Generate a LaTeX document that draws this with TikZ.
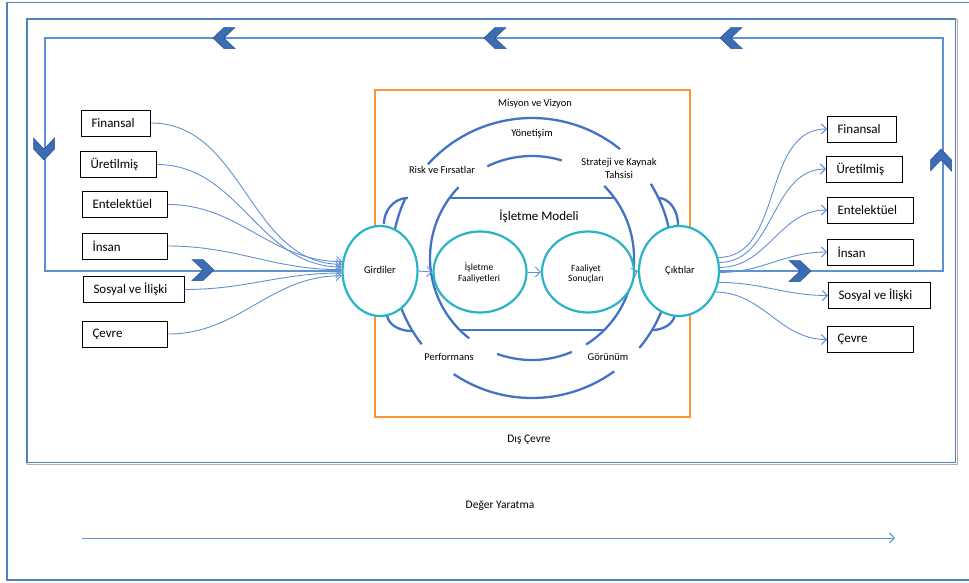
\documentclass[tikz,border=0pt]{standalone}
\usepackage{fontspec}
\setmainfont{Carlito}
\usetikzlibrary{arrows.meta,shapes.geometric,calc}
\definecolor{framecol}{RGB}{79,129,189}
\definecolor{conncol}{RGB}{95,145,210}
\definecolor{ringcol}{RGB}{68,114,196}
\definecolor{ellcol}{RGB}{40,180,200}
\definecolor{orangecol}{RGB}{247,150,50}
\definecolor{chevfill}{RGB}{60,108,180}
\definecolor{chevdraw}{RGB}{40,80,145}
\definecolor{shadowcol}{RGB}{190,170,170}
\newcommand\ringarc[3]{\draw[ringline] plot[domain=#2:#3,samples=80,smooth] ({532+#1*cos(\x)},{258+#1*sin(\x)});}
\newcommand\earc[6]{\draw[ringline] plot[domain=#5:#6,samples=30,smooth] ({#1+#3*cos(\x)},{#2+#4*sin(\x)});}
\begin{document}
\begin{tikzpicture}[x=1pt,y=-1pt,
  ringline/.style={draw=ringcol,line width=2.3},
  ell/.style={ellipse,draw=ellcol,line width=2.2,fill=white,inner sep=0pt},
  box/.style={draw=black,line width=1,rectangle,inner xsep=10pt,inner ysep=0pt,minimum height=26pt,align=flush left,anchor=west,font=\fontsize{13}{15}\selectfont},
  lbl/.style={font=\fontsize{10.5}{12}\selectfont,inner sep=0pt,align=center},
  conn/.style={draw=conncol,line width=0.9,-{Straight Barb[length=5pt,width=10pt]}},
  loopline/.style={draw=conncol,line width=1.3},
  chevron/.pic={\path[fill=chevfill,draw=chevdraw,line width=0.5] (-11,-10.5) -- (0,-10.5) -- (11,0) -- (0,10.5) -- (-11,10.5) -- (0,0) -- cycle;}
]
\useasboundingbox (0,0) rectangle (969,582);
% frames
\draw[framecol,line width=1.8] (7,2.5) rectangle (972,580);
\draw[shadowcol,line width=1] (27,19) rectangle (957.5,464.5);
\draw[framecol,line width=1.6] (27,19) rectangle (955.5,462.5);
% orange box
\draw[orangecol,line width=2] (375,90) rectangle (690,417);
% rings
\ringarc{140}{142}{205}
\ringarc{140}{222}{309}
\ringarc{140}{-32}{40}
\ringarc{140}{54}{124}
\ringarc{102}{244}{287}
\ringarc{102}{-45}{58}
\ringarc{102}{67}{110}
\ringarc{102}{128}{224}
\coordinate (ch1) at (450,198); \coordinate (ch2) at (614,198);
\coordinate (ch3) at (460,330); \coordinate (ch4) at (604,330);
\draw[ringline] (ch1) -- (ch2);
\draw[ringline] (ch3) -- (ch4);
% ears
\earc{408}{224}{24}{26}{180}{270}
\earc{412}{314}{25}{17}{90}{180}
\earc{658}{225}{20}{27}{270}{360}
\earc{652}{313}{23}{17}{0}{90}
% loop
\coordinate (lpA) at (45,271);
\coordinate (lpB) at (45,38);
\coordinate (lpC) at (943,38);
\coordinate (lpD) at (943,271);
% ellipses
\node[ell,minimum width=75pt,minimum height=90pt] (gird) at (380,271) {};
\node[ell,minimum width=80pt,minimum height=90pt] (cikt) at (679,271) {};
\node[ell,minimum width=93pt,minimum height=81pt] (isf) at (480,272) {};
\node[ell,minimum width=92pt,minimum height=81pt] (fs) at (588,272) {};
\draw[loopline] (gird.west) -- (lpA) -- (lpB) -- (lpC) -- (lpD) -- (cikt.east);
% chevrons
\path (224,38) pic[rotate=180]{chevron};
\path (495,38) pic[rotate=180]{chevron};
\path (731,38) pic[rotate=180]{chevron};
\path (44,149) pic[rotate=-90]{chevron};
\path (203,270) pic{chevron};
\path (800,271) pic{chevron};
\path (941,160) pic[rotate=90]{chevron};
% inner arrows
\draw[conn] (gird.east) -- (isf.west);
\draw[conn] (isf.east) -- (fs.west);
\draw[conn] (fs.east) -- (cikt.west);
% texts in ellipses
\node[lbl] (tgird) at (380,270) {Girdiler};
\node[lbl] (tcikt) at (680,271) {Çıktılar};
\node[lbl,font=\fontsize{9.5}{10.5}\selectfont] (tisf) at (479,273) {İşletme\\Faaliyetleri};
\node[lbl,font=\fontsize{9.5}{10.5}\selectfont] (tfs) at (586,274) {Faaliyet\\Sonuçları};
% ring labels
\node[lbl] (tmis) at (535,104) {Misyon ve Vizyon};
\node[lbl] (tyon) at (532,134) {Yönetişim};
\node[lbl] (trisk) at (442,170) {Risk ve Fırsatlar};
\node[lbl,font=\fontsize{10.5}{13}\selectfont] (tstr) at (619,168) {Strateji ve Kaynak\\Tahsisi};
\node[lbl,font=\fontsize{13}{15}\selectfont] (tmod) at (539,216) {İşletme Modeli};
\node[lbl] (tper) at (449,357) {Performans};
\node[lbl] (tgor) at (608,357) {Görünüm};
\node[lbl,font=\fontsize{11.5}{13}\selectfont] (tdis) at (529,440) {Dış Çevre};
\node[lbl,font=\fontsize{11.5}{13}\selectfont] (tdeg) at (500,506) {Değer Yaratma};
% left boxes
\node[box,text width=49pt] (lfin) at (81,123) {Finansal};
\node[box,text width=56pt] (lure) at (80,164.5) {Üretilmiş};
\node[box,text width=65pt] (lent) at (82,204.5) {Entelektüel};
\node[box,text width=65pt] (lins) at (82,246) {İnsan};
\node[box,text width=81pt] (lsos) at (83,289.5) {Sosyal ve İlişki};
\node[box,text width=65pt] (lcev) at (82,334) {Çevre};
% right boxes
\node[box,text width=49pt] (rfin) at (827,129) {Finansal};
\node[box,text width=56pt] (rure) at (826,169) {Üretilmiş};
\node[box,text width=66pt] (rent) at (827,210) {Entelektüel};
\node[box,text width=66pt] (rins) at (827,252) {İnsan};
\node[box,text width=82pt] (rsos) at (828,295.5) {Sosyal ve İlişki};
\node[box,text width=66pt] (rcev) at (827,339.5) {Çevre};
% left connectors
\draw[conn] (lfin.east) to[out=0,in=180] (gird.170);
\draw[conn] (lure.east) to[out=0,in=180] (gird.174);
\draw[conn] (lent.east) to[out=0,in=180] (gird.166);
\draw[conn] (lins.east) to[out=0,in=180] (gird.178);
\draw[conn] (lsos.east) to[out=0,in=180] (gird.183);
\draw[conn] (lcev.east) to[out=0,in=180] (gird.187);
% right connectors
\draw[conn] (cikt.19) to[out=0,in=180] (rfin.west);
\draw[conn] (cikt.12) to[out=0,in=180] (rure.west);
\draw[conn] (cikt.5) to[out=0,in=180] (rent.west);
\draw[conn] (cikt.-2) to[out=0,in=180] (rins.west);
\draw[conn] (cikt.-16) to[out=0,in=180] (rsos.west);
\draw[conn] (cikt.-30) to[out=0,in=180] (rcev.west);
% value creation arrow
\coordinate (va1) at (82,538);
\coordinate (va2) at (895,538);
\draw[conn] (va1) -- (va2);
\end{tikzpicture}
\end{document}
